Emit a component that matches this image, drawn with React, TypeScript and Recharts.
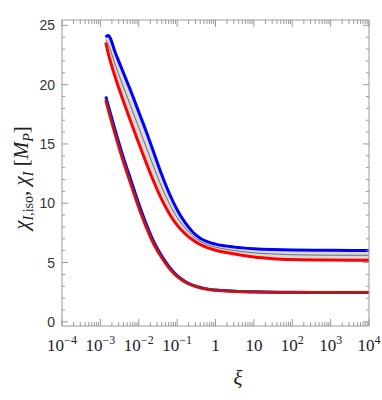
import { ComposedChart, Area, Line, XAxis, YAxis } from "recharts";

// xi samples (log-spaced)
const xi = [
  1.38e-3, 1.585e-3, 2.512e-3, 3.981e-3, 6.31e-3, 0.01, 0.01585, 0.02512, 0.03981, 0.0631,
  0.1, 0.1585, 0.2512, 0.3981, 0.631, 1, 3.162, 10, 31.62, 100, 1000, 10000,
];

const upperBlue = [
  24.0, 24.15, 22.6, 21.0, 19.4, 17.7, 16.0, 14.2, 12.4, 10.8,
  9.45, 8.4, 7.6, 7.05, 6.74, 6.55, 6.3, 6.17, 6.1, 6.06, 6.03, 6.02,
];
const upperRed = [
  23.55, 22.7, 20.5, 18.6, 16.8, 15.05, 13.35, 11.75, 10.3, 9.1,
  8.15, 7.45, 6.92, 6.52, 6.24, 6.04, 5.72, 5.47, 5.33, 5.26, 5.21, 5.2,
];
const upperMid = [
  23.78, 23.43, 21.55, 19.8, 18.1, 16.38, 14.68, 12.98, 11.35, 9.95,
  8.8, 7.93, 7.26, 6.79, 6.49, 6.3, 6.01, 5.82, 5.72, 5.66, 5.62, 5.61,
];

const lowerBlue = [
  19.0, 18.3, 16.0, 13.85, 11.9, 9.95, 8.2, 6.7, 5.55, 4.6,
  3.9, 3.42, 3.1, 2.9, 2.76, 2.68, 2.58, 2.53, 2.5, 2.49, 2.48, 2.48,
];
const lowerRed = [
  18.7, 17.95, 15.65, 13.5, 11.55, 9.65, 7.95, 6.5, 5.4, 4.5,
  3.83, 3.37, 3.07, 2.88, 2.75, 2.67, 2.57, 2.52, 2.49, 2.48, 2.47, 2.47,
];
const lowerMid = [
  18.85, 18.12, 15.82, 13.68, 11.72, 9.8, 8.08, 6.6, 5.48, 4.55,
  3.87, 3.4, 3.09, 2.89, 2.76, 2.68, 2.58, 2.53, 2.5, 2.49, 2.48, 2.48,
];

const majorX = [1e-4, 1e-3, 1e-2, 1e-1, 1, 10, 100, 1000, 10000];
const majorXBase = ["10", "10", "10", "10", "1", "10", "10", "10", "10"];
const majorXExp = ["\u22124", "\u22123", "\u22122", "\u22121", "", "", "2", "3", "4"];

const yLabels = [0, 5, 10, 15, 20, 25];

const rows = xi.map((x, i) => ({
  xi: x,
  upperBlue: upperBlue[i],
  upperRed: upperRed[i],
  upperMid: upperMid[i],
  lowerBlue: lowerBlue[i],
  lowerRed: lowerRed[i],
  lowerMid: lowerMid[i],
}));

const xTicks: number[] = [];
for (let n = -4; n < 4; n++) {
  for (let k = 1; k < 10; k++) xTicks.push(k === 1 ? majorX[n + 4] : k * Math.pow(10, n));
}
xTicks.push(1e4);

const yTicks: number[] = [];
for (let v = 0; v <= 25; v++) yTicks.push(v);

const TICK = "#9a9a9a";
const SERIF = "'Liberation Serif', 'DejaVu Serif', serif";
const SANS = "'Liberation Sans', Arial, sans-serif";

function BottomTick({ x, y, payload }: any) {
  const i = majorX.indexOf(payload.value);
  const len = i >= 0 ? 7 : 4;
  return (
    <g>
      <line x1={x} x2={x} y1={y} y2={y - len} stroke={TICK} strokeWidth={1} />
      {i >= 0 && (
        <text x={x} y={y + 25} textAnchor="middle" fontFamily={SERIF} fontSize={17} fill="#222">
          {majorXBase[i]}
          {majorXExp[i] && (
            <tspan dy={-7} fontSize={12}>
              {majorXExp[i]}
            </tspan>
          )}
        </text>
      )}
    </g>
  );
}

function TopTick({ x, y, payload }: any) {
  const len = majorX.indexOf(payload.value) >= 0 ? 7 : 4;
  return <line x1={x} x2={x} y1={y} y2={y + len} stroke={TICK} strokeWidth={1} />;
}

function LeftTick({ x, y, payload }: any) {
  const major = yLabels.indexOf(payload.value) >= 0;
  return (
    <g>
      <line x1={x} x2={x + (major ? 6 : 3)} y1={y} y2={y} stroke={TICK} strokeWidth={1} />
      {major && (
        <text x={x - 7} y={y + 5} textAnchor="end" fontFamily={SANS} fontSize={14} fill="#333">
          {payload.value}
        </text>
      )}
    </g>
  );
}

function RightTick({ x, y, payload }: any) {
  const major = yLabels.indexOf(payload.value) >= 0;
  return <line x1={x} x2={x - (major ? 6 : 3)} y1={y} y2={y} stroke={TICK} strokeWidth={1} />;
}

export default function App() {
  return (
    <div style={{ position: "absolute", left: 0, top: 0, width: 382, height: 400, background: "#fff" }}>
      <ComposedChart
        width={382}
        height={400}
        data={rows}
        margin={{ top: 0, right: 0, bottom: 0, left: 0 }}
      >
        <XAxis
          dataKey="xi"
          type="number"
          scale="log"
          domain={[1e-4, 1e4]}
          allowDataOverflow
          ticks={xTicks}
          interval={0}
          tick={<BottomTick />}
          tickSize={0}
          tickMargin={0}
          height={74}
          stroke={TICK}
        />
        <XAxis
          xAxisId="top"
          dataKey="xi"
          type="number"
          scale="log"
          domain={[1e-4, 1e4]}
          allowDataOverflow
          orientation="top"
          ticks={xTicks}
          interval={0}
          tick={<TopTick />}
          tickSize={0}
          tickMargin={0}
          height={20}
          stroke={TICK}
        />
        <YAxis
          type="number"
          domain={[-0.35, 25.45]}
          allowDataOverflow
          ticks={yTicks}
          interval={0}
          tick={<LeftTick />}
          tickSize={0}
          tickMargin={0}
          width={62}
          stroke={TICK}
        />
        <YAxis
          yAxisId="right"
          orientation="right"
          type="number"
          domain={[-0.35, 25.45]}
          allowDataOverflow
          ticks={yTicks}
          interval={0}
          tick={<RightTick />}
          tickSize={0}
          tickMargin={0}
          width={13}
          stroke={TICK}
        />
        <Area
          type="monotone"
          dataKey={(d: any) => [d.upperRed, d.upperBlue]}
          fill="#d9d9d9"
          fillOpacity={1}
          stroke="none"
          isAnimationActive={false}
        />
        <Area
          type="monotone"
          dataKey={(d: any) => [d.lowerRed, d.lowerBlue]}
          fill="#d9d9d9"
          fillOpacity={1}
          stroke="none"
          isAnimationActive={false}
        />
        <Line type="monotone" dataKey="upperBlue" stroke="#0000ff" strokeWidth={3} dot={false} isAnimationActive={false} />
        <Line type="monotone" dataKey="lowerBlue" stroke="#0000ff" strokeWidth={3} dot={false} isAnimationActive={false} />
        <Line type="monotone" dataKey="upperRed" stroke="#ff0000" strokeWidth={3} dot={false} isAnimationActive={false} />
        <Line type="monotone" dataKey="lowerRed" stroke="#ff0000" strokeWidth={3} dot={false} isAnimationActive={false} />
        <Line type="monotone" dataKey="upperMid" stroke="#6e6e6e" strokeWidth={1} dot={false} isAnimationActive={false} />
        <Line type="monotone" dataKey="lowerMid" stroke="#444" strokeWidth={1} dot={false} isAnimationActive={false} />
      </ComposedChart>
      <svg width={382} height={400} style={{ position: "absolute", left: 0, top: 0, pointerEvents: "none" }}>
        <text transform="translate(28,178) rotate(-90)" textAnchor="middle" fontFamily={SERIF} fontSize={21} fill="#222">
          <tspan fontStyle="italic">χ</tspan>
          <tspan fontSize={14} dy={5} fontStyle="italic">I</tspan>
          <tspan fontSize={14}>,iso</tspan>
          <tspan dy={-5}>, </tspan>
          <tspan fontStyle="italic">χ</tspan>
          <tspan fontSize={14} dy={5} fontStyle="italic">I</tspan>
          <tspan dy={-5}> [</tspan>
          <tspan fontStyle="italic">M</tspan>
          <tspan fontSize={14} dy={5} fontStyle="italic">P</tspan>
          <tspan dy={-5}>]</tspan>
        </text>
        <text x={238} y={385} textAnchor="middle" fontFamily={SERIF} fontSize={21} fontStyle="italic" fill="#222">
          ξ
        </text>
      </svg>
    </div>
  );
}
